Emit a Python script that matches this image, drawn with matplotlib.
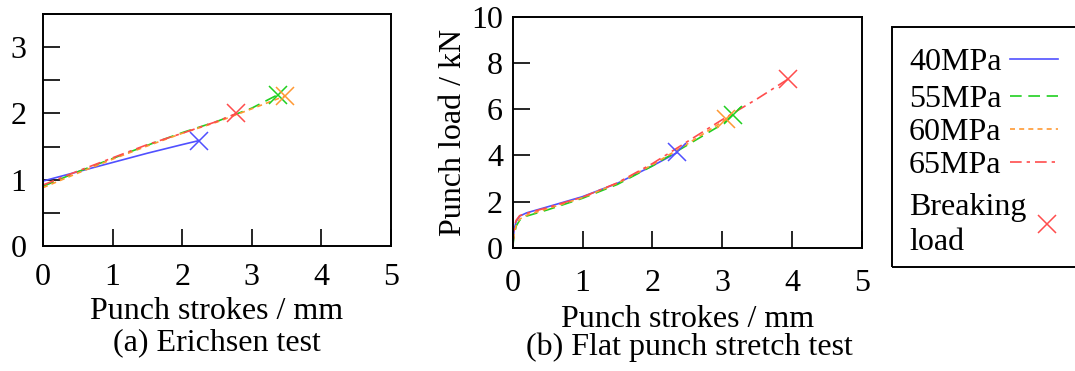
import matplotlib
matplotlib.use("Agg")
import matplotlib.pyplot as plt
from matplotlib.lines import Line2D
from matplotlib.patches import Rectangle
from matplotlib.ticker import MultipleLocator

plt.rcParams['font.family'] = ['Liberation Serif', 'DejaVu Serif']
plt.rcParams['font.size'] = 23

series = ["40MPa", "55MPa", "60MPa", "65MPa"]
colors = ["#5050ff", "#20d020", "#ff9933", "#ff4d4d"]
styles = ["-", (0, (7, 4)), (0, (3, 2.5)), (0, (7, 3, 2, 3))]
break_label = "Breaking\nload"

# (a) Erichsen test
erich_x = {
    "40MPa": [0.0, 0.5, 1.0, 1.5, 2.0, 2.24],
    "55MPa": [0.0, 0.5, 1.0, 1.5, 2.0, 2.5, 3.0, 3.37],
    "60MPa": [0.0, 0.5, 1.0, 1.5, 2.0, 2.5, 3.0, 3.47],
    "65MPa": [0.0, 0.5, 1.0, 1.5, 2.0, 2.5, 2.78],
}
erich_y = {
    "40MPa": [0.98, 1.12, 1.26, 1.40, 1.53, 1.59],
    "55MPa": [0.90, 1.12, 1.32, 1.52, 1.71, 1.88, 2.08, 2.28],
    "60MPa": [0.88, 1.10, 1.31, 1.51, 1.70, 1.87, 2.07, 2.26],
    "65MPa": [0.92, 1.13, 1.33, 1.53, 1.70, 1.88, 2.00],
}
erich_break_x = [2.24, 3.37, 3.47, 2.78]
erich_break_y = [1.59, 2.28, 2.26, 2.00]

# (b) Flat punch stretch test
flat_x = {
    "40MPa": [0.0, 0.02, 0.05, 0.1, 0.2, 0.5, 1.0, 1.5, 2.0, 2.35],
    "55MPa": [0.0, 0.02, 0.05, 0.1, 0.2, 0.5, 1.0, 1.5, 2.0, 2.5, 3.0, 3.27],
    "60MPa": [0.0, 0.02, 0.05, 0.1, 0.2, 0.5, 1.0, 1.5, 2.0, 2.5, 3.05],
    "65MPa": [0.0, 0.02, 0.05, 0.1, 0.2, 0.5, 1.0, 1.5, 2.0, 2.5, 3.0, 3.5, 3.94],
}
flat_y = {
    "40MPa": [0.0, 0.8, 1.15, 1.38, 1.52, 1.78, 2.22, 2.8, 3.55, 4.12],
    "55MPa": [0.0, 0.55, 0.95, 1.2, 1.38, 1.65, 2.15, 2.75, 3.55, 4.45, 5.35, 6.1],
    "60MPa": [0.0, 0.6, 1.0, 1.25, 1.42, 1.7, 2.18, 2.8, 3.6, 4.5, 5.55],
    "65MPa": [0.0, 0.9, 1.2, 1.4, 1.5, 1.75, 2.2, 2.82, 3.65, 4.6, 5.55, 6.45, 7.3],
}
flat_break_x = [2.35, 3.16, 3.05, 3.94]
flat_break_y = [4.17, 5.75, 5.58, 7.30]

W, H = 1075, 371
fig = plt.figure(figsize=(W / 100, H / 100), dpi=100)
ax1 = fig.add_axes([43 / W, 125 / H, 348 / W, 232 / H])
ax2 = fig.add_axes([512.7 / W, 123 / H, 349.3 / W, 231.3 / H])

def style_axes(ax, xpad, ypad):
    for s in ax.spines.values():
        s.set_linewidth(1.4)
    ax.tick_params(which='both', direction='in', length=12, width=1.2,
                   top=False, right=False)
    ax.tick_params(axis='x', which='both', pad=xpad)
    ax.tick_params(axis='y', which='both', pad=ypad)

for name, c, ls in zip(series, colors, styles):
    ax1.plot(erich_x[name], erich_y[name], color=c, ls=ls, lw=1.2)
    ax2.plot(flat_x[name], flat_y[name], color=c, ls=ls, lw=1.2)
for i, c in enumerate(colors):
    ax1.plot(erich_break_x[i], erich_break_y[i], marker='x', color=c, ms=13, mew=1.1, ls='none')
    ax2.plot(flat_break_x[i], flat_break_y[i], marker='x', color=c, ms=13, mew=1.1, ls='none')

ax1.set_xlim(0, 5)
ax1.set_ylim(0, 3.5)
ax1.xaxis.set_major_locator(MultipleLocator(1))
ax1.yaxis.set_major_locator(MultipleLocator(1))
ax1.yaxis.set_minor_locator(MultipleLocator(0.5))
style_axes(ax1, 12, 12)
ax1.set_xlabel("Punch strokes / mm", labelpad=4)

ax2.set_xlim(0, 5)
ax2.set_ylim(0, 10)
ax2.xaxis.set_major_locator(MultipleLocator(1))
ax2.yaxis.set_major_locator(MultipleLocator(2))
style_axes(ax2, 15, 7)
ax2.set_xlabel("Punch strokes / mm", labelpad=5)
ax2.set_ylabel("Punch load / kN", labelpad=2)

fig.text(217 / W, 1 - 350 / H, "(a) Erichsen test", ha='center', va='baseline')
fig.text(689 / W, 1 - 355 / H, "(b) Flat punch stretch test", ha='center', va='baseline')

# legend box (text left, sample right)
fig.add_artist(Rectangle((892 / W, 1 - 267 / H), 200 / W, 240 / H, transform=fig.transFigure,
                         fill=False, ec='black', lw=1.4))
row_y = [59, 96, 129, 162]
for name, c, ls, y in zip(series, colors, styles, row_y):
    fig.text(909 / W, 1 - y / H, name, ha='left', va='center_baseline')
    fig.add_artist(Line2D([1010 / W, 1058 / W], [1 - y / H, 1 - y / H], transform=fig.transFigure,
                          color=c, ls=ls, lw=1.2))
fig.text(909 / W, 1 - 225 / H, break_label, ha='left', va='center', linespacing=1.25)
fig.add_artist(Line2D([1047 / W], [1 - 224 / H], transform=fig.transFigure, color=colors[3],
                      marker='x', ms=13, mew=1.1, ls='none'))

fig.savefig("out.png", dpi=100)
